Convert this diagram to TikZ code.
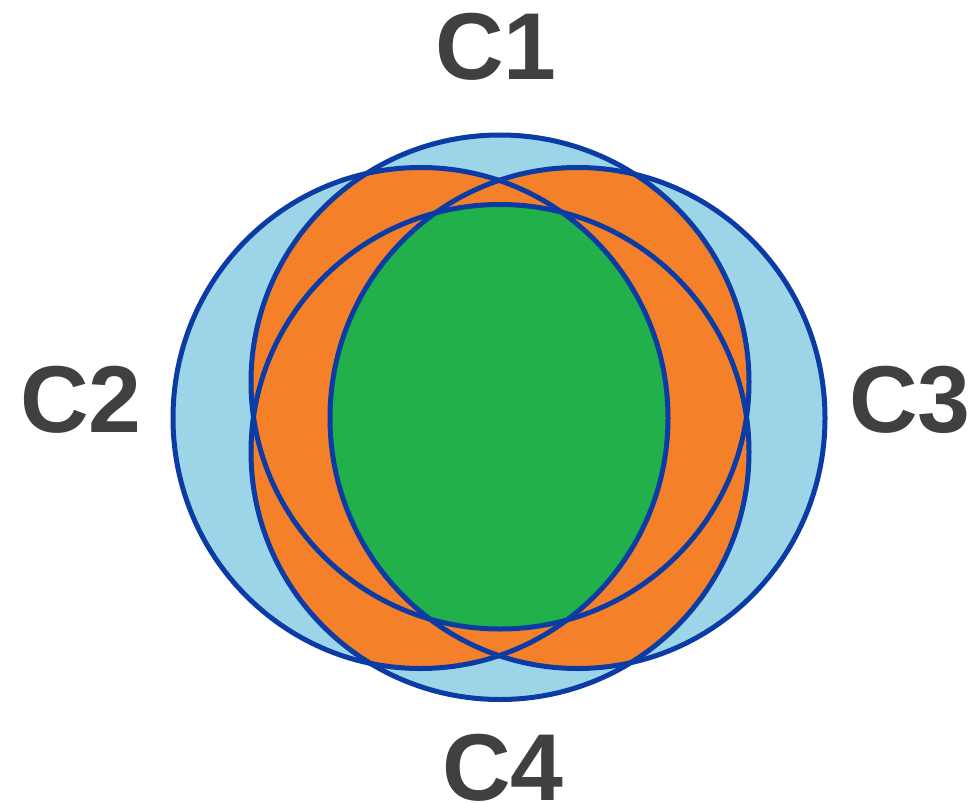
\documentclass[tikz,border=0pt]{standalone}
\usepackage{fontspec}
\setmainfont{Liberation Sans}
\definecolor{lblue}{HTML}{9DD5E8}
\definecolor{org}{HTML}{F5802A}
\definecolor{grn}{HTML}{22B04B}
\definecolor{edge}{HTML}{0B3CA5}
\definecolor{txt}{HTML}{404040}
\begin{document}
\begin{tikzpicture}[x=1pt,y=-1pt,
  lab/.style={text=txt,font=\fontsize{95}{95}\selectfont\bfseries,inner sep=0pt},
  rim/.style={draw=edge,line width=5pt}]
\useasboundingbox (0,0) rectangle (975,803);
\def\CA{(500,382) ellipse [x radius=249, y radius=247]}
\def\CB{(420.5,418) ellipse [x radius=247.5, y radius=250.5]}
\def\CC{(577.5,418) ellipse [x radius=247.5, y radius=250.5]}
\def\CD{(500,452) ellipse [x radius=249, y radius=247.5]}
% single coverage
\fill[lblue] \CA; \fill[lblue] \CB; \fill[lblue] \CC; \fill[lblue] \CD;
% pairwise coverage
\begin{scope}\clip \CA; \fill[org] \CB; \fill[org] \CC; \fill[org] \CD;\end{scope}
\begin{scope}\clip \CB; \fill[org] \CC; \fill[org] \CD;\end{scope}
\begin{scope}\clip \CC; \fill[org] \CD;\end{scope}
% all four
\begin{scope}\clip \CA;\clip \CB;\clip \CC; \fill[grn] \CD;\end{scope}
% outlines
\draw[rim] \CA; \draw[rim] \CB; \draw[rim] \CC; \draw[rim] \CD;
% labels
\node[lab] (c1) at (496,47) {C1};
\node[lab] (c2) at (81,400) {C2};
\node[lab] (c3) at (910,400) {C3};
\node[lab] (c4) at (503,768) {C4};
\end{tikzpicture}
\end{document}
